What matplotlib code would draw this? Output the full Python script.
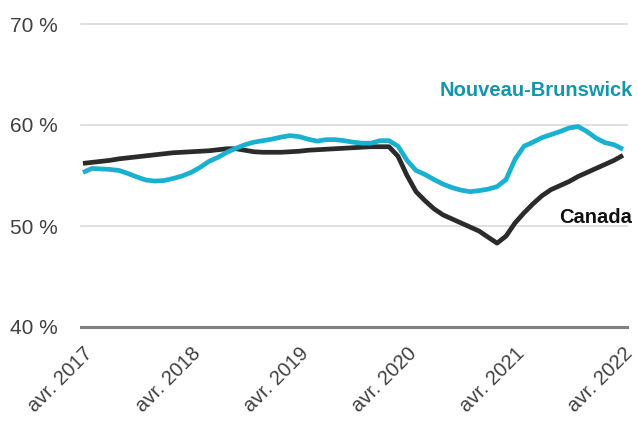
import matplotlib.pyplot as plt

plt.rcParams['font.family'] = ['Liberation Sans', 'DejaVu Sans']

# months from avr. 2017 to avr. 2022 (index 0..60)
tick_labels = ['avr. 2017', 'avr. 2018', 'avr. 2019', 'avr. 2020', 'avr. 2021', 'avr. 2022']
tick_months = [0, 12, 24, 36, 48, 60]

canada = [56.2, 56.3, 56.4, 56.5, 56.65, 56.75, 56.85, 56.95, 57.05, 57.15,
          57.25, 57.3, 57.35, 57.4, 57.45, 57.55, 57.65, 57.65, 57.5, 57.35,
          57.3, 57.3, 57.3, 57.35, 57.4, 57.5, 57.55, 57.6, 57.65, 57.7,
          57.75, 57.8, 57.85, 57.85, 57.85, 56.9, 55.0, 53.4, 52.5, 51.7,
          51.1, 50.7, 50.3, 49.9, 49.5, 48.9, 48.3, 49.0, 50.3, 51.3,
          52.2, 53.0, 53.6, 54.0, 54.4, 54.9, 55.3, 55.7, 56.1, 56.5, 57.0]

nb = [55.3, 55.7, 55.65, 55.6, 55.5, 55.2, 54.85, 54.55, 54.45, 54.5,
      54.7, 54.95, 55.3, 55.8, 56.4, 56.8, 57.3, 57.7, 58.05, 58.3,
      58.45, 58.6, 58.8, 58.95, 58.85, 58.6, 58.4, 58.55, 58.55, 58.45,
      58.3, 58.2, 58.2, 58.45, 58.45, 57.9, 56.5, 55.5, 55.1, 54.6,
      54.15, 53.8, 53.55, 53.4, 53.5, 53.65, 53.9, 54.6, 56.6, 57.9,
      58.3, 58.75, 59.05, 59.35, 59.7, 59.85, 59.35, 58.7, 58.25, 58.05, 57.6]

months = list(range(len(nb)))

fig = plt.figure(figsize=(6.38, 4.21), dpi=100)
ax = fig.add_axes([81 / 638, 1 - 327 / 421, 546 / 638, 303 / 421])

for y in [50, 60, 70]:
    ax.axhline(y, color='#d9d9d9', lw=1.2, zorder=1, clip_on=False)
ax.axhline(40, color='#808080', lw=2.2, zorder=1, clip_on=False)

ax.plot(months, canada, color='#2b2b2b', lw=3.4, zorder=3,
        solid_capstyle='butt', solid_joinstyle='round')
ax.plot(months, nb, color='#1ab1d0', lw=3.4, zorder=4,
        solid_capstyle='butt', solid_joinstyle='round')

ax.set_xlim(-0.22, 60.44)
ax.set_ylim(40, 70)
ax.set_yticks([40, 50, 60, 70])
ax.set_yticklabels(['40 %', '50 %', '60 %', '70 %'])
ax.set_xticks(tick_months)
ax.set_xticklabels(tick_labels, rotation=45, ha='right', va='top',
                   rotation_mode='anchor')
ax.tick_params(axis='y', length=0, pad=17, labelsize=15, labelcolor='#404040')
ax.tick_params(axis='x', length=0, pad=12, labelsize=14.5, labelcolor='#404040')
for s in ax.spines.values():
    s.set_visible(False)

fig.text(633 / 638, 1 - 90 / 421, 'Nouveau-Brunswick', color='#1496aa',
         fontsize=14.5, fontweight='bold', ha='right', va='center')
fig.text(632 / 638, 1 - 218 / 421, 'Canada', color='#111111',
         fontsize=14.5, fontweight='bold', ha='right', va='center')

fig.savefig('out.png', dpi=100)
